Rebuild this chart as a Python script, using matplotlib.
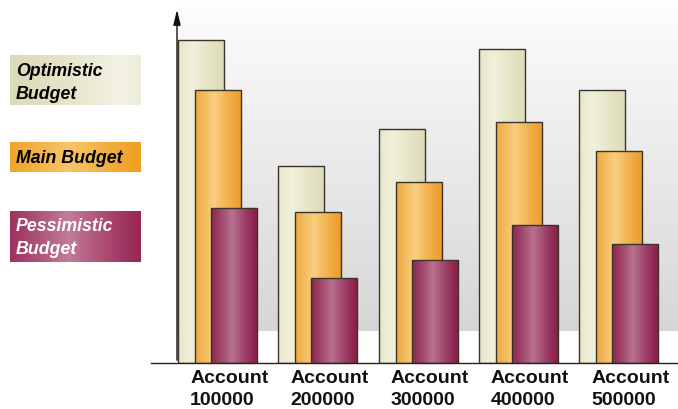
import numpy as np
import matplotlib.pyplot as plt
from matplotlib.colors import to_rgb

# data (bar heights, arbitrary units)
accounts = ['Account\n100000', 'Account\n200000', 'Account\n300000',
            'Account\n400000', 'Account\n500000']
optimistic = [323, 197, 234, 314, 273]
main_budget = [273, 151, 181, 241, 212]
pessimistic = [155, 85, 103, 138, 119]

series = ['Optimistic\nBudget', 'Main Budget', 'Pessimistic\nBudget']

plt.rcParams['font.family'] = ['Liberation Sans', 'DejaVu Sans']

W, H = 678, 410
fig = plt.figure(figsize=(W / 100, H / 100), dpi=100)
fig.patch.set_facecolor('white')

# main axes in pixel placement
left_px, right_px, base_px, top_px = 151, 678, 364, 8
ax = fig.add_axes([left_px / W, (H - base_px) / H,
                   (right_px - left_px) / W, (base_px - top_px) / H])
unit = 100.25
ax.set_xlim((left_px - 178) / unit, (right_px - 178) / unit)
ax.set_ylim(0, base_px - top_px)
ax.axis('off')


def grad_img(edge, centre, peak=0.4, n=64):
    t = np.linspace(0, 1, n)
    w = np.clip(1 - np.abs(t - peak) / max(peak, 1 - peak), 0, 1) ** 1.2
    e, c = np.array(to_rgb(edge)), np.array(to_rgb(centre))
    row = e[None, :] * (1 - w[:, None]) + c[None, :] * w[:, None]
    return row[None, :, :]


# background gradient
xv = -0.01
bg = np.linspace(0, 1, 100)[:, None]
top_c, bot_c = np.array(to_rgb('#fcfcfc')), np.array(to_rgb('#d6d6d6'))
bg_img = top_c * (1 - bg[..., None]) + bot_c * bg[..., None]
ax.imshow(bg_img, extent=[xv, ax.get_xlim()[1], 32, base_px - top_px],
          aspect='auto', zorder=0)

styles = [
    (optimistic, 0.00, '#dedcb8', '#f1f0dc', 0.3),
    (main_budget, 0.17, '#eb9c2a', '#f9cf80', 0.4),
    (pessimistic, 0.33, '#8a1c4a', '#b8728f', 0.45),
]
width = 0.46
x = np.arange(len(accounts))
for k, (vals, off, edge, centre, peak) in enumerate(styles):
    img = grad_img(edge, centre, peak)
    bars = ax.bar(x + off, vals, width, align='edge', facecolor='none',
                  edgecolor='#3b3428', linewidth=1.0, zorder=2 + 2 * k + 1)
    for b in bars:
        ax.imshow(img, extent=[b.get_x(), b.get_x() + b.get_width(), 0, b.get_height()],
                  aspect='auto', zorder=2 + 2 * k, interpolation='bilinear')

# axes lines
ax.plot([ax.get_xlim()[0], ax.get_xlim()[1]], [0, 0], color='#222222', lw=1.0,
        zorder=10, clip_on=False)
ax.annotate('', xy=(xv, base_px - top_px), xytext=(xv, 0),
            arrowprops=dict(arrowstyle='-|>,head_length=0.9,head_width=0.22',
                            color='#111111', lw=1.0), zorder=10)

# category labels
for i, lab in enumerate(accounts):
    ax.text(i + 0.12, -6, lab, ha='left', va='top', fontsize=14,
            fontweight='bold', linespacing=1.42, color='#111111')

# legend boxes on the left
lax = fig.add_axes([0, 0, 1, 1])
lax.set_xlim(0, W)
lax.set_ylim(H, 0)
lax.axis('off')
lax.patch.set_alpha(0)
boxes = [
    (56, 106, '#dbdab8', '#f3f2e2', 0.85, 'black', 83),
    (144, 173, '#efa023', '#f7c56a', 0.45, 'black', 159),
    (212, 263, '#9a2856', '#c27c9a', 0.45, 'white', 238),
]
for lab, (y0, y1, edge, centre, peak, tc, ty) in zip(series, boxes):
    lax.imshow(grad_img(edge, centre, peak), extent=[10, 141, y1, y0],
               aspect='auto', interpolation='bilinear')
    lax.text(16, ty, lab, ha='left', va='center', fontsize=12.8,
             fontweight='bold', fontstyle='italic', color=tc, linespacing=1.4)
lax.set_xlim(0, W)
lax.set_ylim(H, 0)

fig.savefig('out.png', dpi=100)
